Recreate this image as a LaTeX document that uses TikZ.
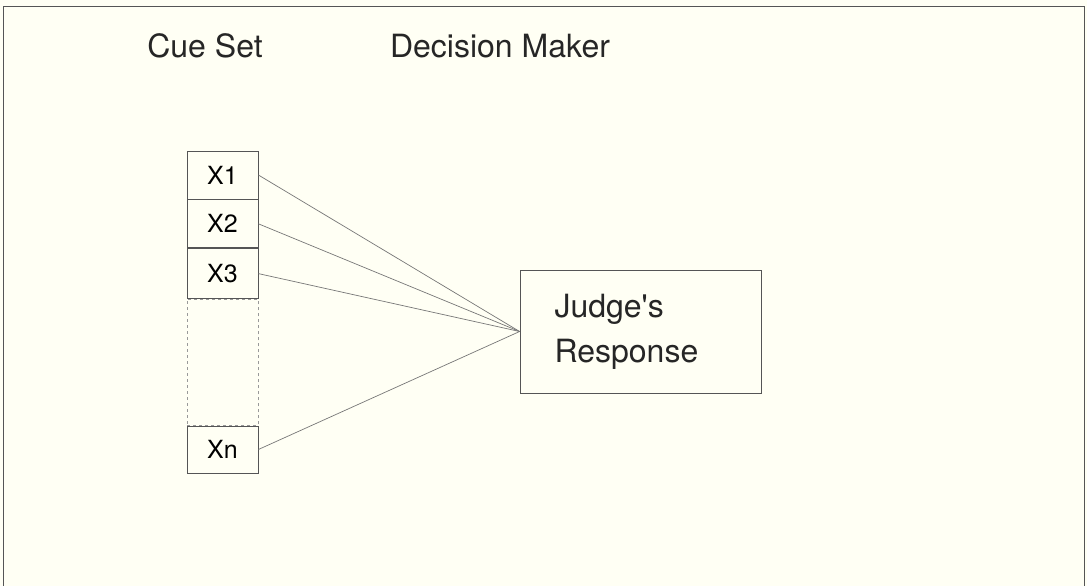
\documentclass[tikz,border=0pt]{standalone}
\usepackage{fontspec}
\setmainfont{TeX Gyre Heros}
\usetikzlibrary{positioning}

\definecolor{paper}{HTML}{FFFFF4}
\definecolor{ink}{HTML}{555555}

\tikzset{
    cue/.style={draw=ink, line width=0.8pt, minimum width=71pt, minimum height=48pt, inner sep=0pt, font=\fontsize{25}{27}\selectfont},
    title/.style={font=\fontsize{32}{34}\selectfont, text=black!85},
    link/.style={draw=ink!80, line width=0.7pt}
}

\begin{document}
\begin{tikzpicture}[x=1pt, y=-1pt]
            % Page and frame
            \fill[paper] (0,0) rectangle (1087,586);
            \useasboundingbox (0,0) rectangle (1087,586);
            \draw[ink, line width=1pt] (3,586) -- (3,7) -- (1084,7) -- (1084,586);

            % Headings
            \node[title] (cueset) at (205,46) {Cue Set};
            \node[title] (maker) at (500,46) {Decision Maker};

            % Cue boxes
            \node[cue] (x1) at (222.5,175) {X1};
            \node[cue, below=0pt of x1] (x2) {X2};
            \node[cue, below=0pt of x2, minimum height=50pt] (x3) {X3};
            \node[draw=ink!60, dash pattern=on 3pt off 3pt, line width=0.6pt, minimum width=71pt, minimum height=126pt, inner sep=0pt, below=0pt of x3] (gap) {};
            \node[cue, below=0pt of gap, minimum height=47pt] (xn) {Xn};

            % Response box
            \node[draw=ink, line width=0.8pt, minimum width=241pt, minimum height=123pt, inner sep=0pt] (judge) at (640.5,331.5) {};
            \node[title, align=left, anchor=north west, font=\fontsize{32}{45}\selectfont] (judgetext) at (551,291) {Judge\textquotesingle s\\Response};
            \coordinate (meet) at (judge.west);

            % Cue weights
            \foreach \c in {x1,x2,x3,xn}
                \draw[link] (\c.east) -- (meet);

        \end{tikzpicture}
\end{document}
